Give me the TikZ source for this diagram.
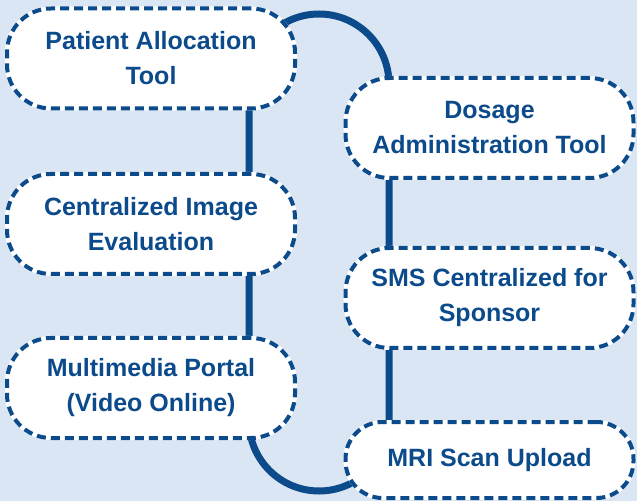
\documentclass[tikz,border=0pt]{standalone}
\usepackage{fontspec}
\setmainfont{Liberation Sans}
\definecolor{trackblue}{RGB}{11,74,139}
\definecolor{pagebg}{RGB}{219,230,244}
\begin{document}
\begin{tikzpicture}[x=1pt,y=1pt,
		track/.style={trackblue,line width=7pt},
		toolbox/.style={fill=white,draw=white,line width=4pt,rounded corners=44pt,
			minimum width=288pt,minimum height=100pt,align=center,text=trackblue,
			font=\bfseries\fontsize{25}{35}\selectfont,
			postaction={draw=trackblue,line width=4pt,dash pattern=on 9pt off 5pt}}]
			\fill[pagebg] (0,0) rectangle (637,501);
			\useasboundingbox (0,0) rectangle (637,501);
			\coordinate (bl) at (249,80);
			\coordinate (tl) at (249,417);
			\coordinate (tr) at (389,417);
			\coordinate (br) at (389,80);
			\draw[track] (bl) -- (tl) arc[start angle=180, end angle=0, radius=70pt] -- (br) arc[start angle=0, end angle=-180, radius=70pt] -- cycle;
			\node[toolbox] (pat) at (151,442.5) {Patient Allocation\\Tool};
			\node[toolbox] (cie) at (151,277) {Centralized Image\\Evaluation};
			\node[toolbox] (mmp) at (151,113) {Multimedia Portal\\(Video Online)};
			\node[toolbox] (dos) at (489.5,373) {Dosage\\Administration Tool};
			\node[toolbox] (sms) at (489.5,203) {SMS Centralized for\\Sponsor};
			\node[toolbox,minimum height=76pt,rounded corners=37pt] (mri) at (489.5,41) {MRI Scan Upload};
		\end{tikzpicture}
\end{document}
